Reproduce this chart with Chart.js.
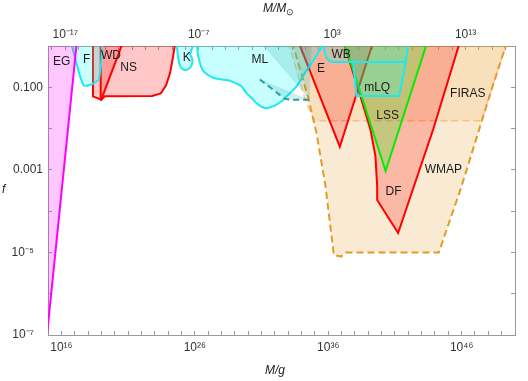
<!DOCTYPE html>
<html>
<head>
<meta charset="utf-8">
<title>PBH constraints</title>
<script src="https://cdn.jsdelivr.net/npm/chart.js@4.4.1/dist/chart.umd.min.js"></script>
<style>
  body { margin: 0; background: #fff; }
  #wrap { position: relative; width: 528px; height: 381px; font-family: 'Liberation Sans', Arial, sans-serif; }
  .ttl { position: absolute; font-style: italic; font-size: 12px; line-height: 14px; color: #222; white-space: nowrap; }
  .ttl sub { font-style: normal; font-size: 9px; }
</style>
</head>
<body>
<div id="wrap">
  <canvas id="pbhChart" width="528" height="381"></canvas>
  <div class="ttl" style="left:263px;top:1px">M/M<sub>⊙</sub></div>
  <div class="ttl" style="left:265px;top:363px">M/g</div>
  <div class="ttl" style="left:2px;top:182px">f</div>
</div>
<script>
(function () {
  'use strict';

  // boundaries as [log10(M/g), log10 f]
  var egEdge = [[14.9, -7.08], [17.16, 0.1], [14.9, 0.1]];
  var fEdge = [[16.72, 0.1], [17.10, -0.38], [17.43, -0.76], [17.70, -0.96], [18.07, -0.95], [18.37, -0.91], [18.82, -0.81], [18.95, 0.1]];
  var wdEdge = [[18.37, 0.1], [18.37, -1.22], [18.99, -1.30], [20.63, 0.1]];
  var nsEdge = [[18.95, 0.1], [18.95, -1.25], [19.0, -1.30], [19.25, -1.22], [22.8, -1.21], [23.45, -1.15], [23.85, -0.95], [24.15, -0.65], [24.35, -0.3], [24.55, 0.1]];
  var kEdge = [[24.64, 0.1], [24.74, -0.25], [24.9, -0.48], [25.15, -0.57], [25.5, -0.56], [25.78, -0.45], [25.8, -0.3], [25.65, -0.2], [25.9, 0.1]];
  var mlEdge = [[26.14, 0.1], [26.2, -0.1], [26.26, -0.25], [26.51, -0.53], [26.76, -0.65], [27.38, -0.77], [28.03, -0.81], [28.63, -0.84], [29.13, -0.91], [29.51, -0.98], [29.88, -1.14], [30.38, -1.30], [30.75, -1.42], [31.25, -1.50], [31.63, -1.49], [32.13, -1.42], [32.5, -1.34], [32.88, -1.22], [33.63, -0.98], [34.25, -0.65], [34.75, -0.42], [35.22, -0.18], [35.65, 0.1]];
  var mlDashEdge = [[30.88, 0.1], [30.88, -0.81], [32.75, -1.28], [33.13, -1.30], [34.63, -1.30], [34.75, 0.1]];
  var wbEdge = [[35.62, 0.1], [35.72, -0.12], [35.85, -0.27], [36.1, -0.36], [36.3, -0.39], [41.81, -0.39], [42.02, 0.1]];
  var mlqEdge = [[37.87, -0.39], [38.12, -1.21], [41.31, -1.21], [41.61, -0.75], [41.81, -0.39]];
  var eEdge = [[33.77, 0.1], [36.87, -2.44], [39.37, 0.1]];
  var lssEdge = [[37.2, 0.1], [40.30, -3.03], [43.43, 0.1]];
  var dfEdge = [[37.15, 0.1], [38.42, -1.22], [39.17, -2.03], [39.54, -2.67], [39.67, -3.40], [39.67, -3.73], [41.24, -4.53], [43.86, -2.03], [45.87, 0.1]];
  var firasEdge = [[33.0, 0.1], [34.25, -1.27], [34.65, -1.60], [35.0, -1.81], [47.49, -1.81], [49.40, 0.1]];
  var wmapEdge = [[33.3, 0.1], [34.48, -1.23], [35.13, -2.12], [35.8, -3.40], [36.42, -5.06], [36.97, -5.10], [37.30, -5.0], [44.29, -5.0], [45.91, -3.48], [48.15, -1.15], [49.40, 0.1]];

  var labelNames = ['EG', 'F', 'WD', 'NS', 'K', 'ML', 'E', 'WB', 'mLQ', 'LSS', 'FIRAS', 'WMAP', 'DF'];
  var labelLgM = [16.03, 17.9, 19.72, 21.04, 25.39, 30.88, 35.46, 36.97, 39.67, 40.45, 46.46, 44.63, 40.9];
  var labelLgF = [-0.39, -0.33, -0.23, -0.53, -0.29, -0.34, -0.55, -0.2, -1.01, -1.70, -1.15, -3.0, -3.52];

  var bottomLabelExps = [16, 26, 36, 46];
  var topLabelExps = [-17, -7, 3, 13];
  var yLabelExps = [-1, -3, -5, -7];
  var yLabelText = ['0.100', '0.001', '10\u207B\u2075\u2007\u2009', '10\u207B\u2077\u2007\u2009'];
  var solarMassGrams = 1.989e33;

  var SUP = { '0': '\u2070', '1': '\u00B9', '2': '\u00B2', '3': '\u00B3', '4': '\u2074', '5': '\u2075', '6': '\u2076', '7': '\u2077', '8': '\u2078', '9': '\u2079', '-': '\u207B' };
  function pow10Label(e) {
    return '10' + String(e).split('').map(function (c) { return SUP[c]; }).join('');
  }
  function expOf(v) { return Math.round(Math.log10(v)); }

  function toPoints(edge, close) {
    var pts = edge.map(function (d) { return { x: Math.pow(10, d[0]), y: Math.pow(10, d[1]) }; });
    if (close) pts.push(pts[0]);
    return pts;
  }

  function region(edge, line, fill, extra) {
    var ds = {
      data: toPoints(edge, true),
      borderColor: line,
      backgroundColor: fill,
      borderWidth: 2,
      fill: 'shape',
      pointRadius: 0,
      tension: 0,
      clip: 0
    };
    for (var k in extra) ds[k] = extra[k];
    return ds;
  }

  var RED = '#ff0000', REDFILL = 'rgba(255,0,0,0.22)';
  var CYAN = '#1ee8f2', CYANFILL = 'rgba(0,255,255,0.22)';

  // drawn bottom to top
  var layers = [
    region(wmapEdge, '#e19c24', 'rgba(225,156,36,0.2)', { borderDash: [7, 4] }),
    region(firasEdge, 'rgba(255,140,60,0.45)', 'rgba(240,160,70,0.15)', { borderDash: [7, 4], borderWidth: 1.5 }),
    region(dfEdge, RED, REDFILL),
    region(eEdge, RED, REDFILL),
    region(nsEdge, RED, REDFILL),
    region(wdEdge, RED, REDFILL),
    region(lssEdge, '#00ee00', 'rgba(0,255,0,0.22)'),
    region(mlqEdge, CYAN, CYANFILL),
    region(wbEdge, CYAN, CYANFILL),
    region(mlEdge, CYAN, CYANFILL, { tension: 0.3 }),
    region(mlDashEdge, '#1fa3a8', 'rgba(0,140,140,0.16)', {
      borderDash: [6, 4],
      segment: {
        borderColor: function (ctx) {
          return (ctx.p0DataIndex === 0 || ctx.p0DataIndex >= 4) ? 'rgba(0,0,0,0)' : undefined;
        }
      }
    }),
    region(kEdge, CYAN, CYANFILL, { tension: 0.35 }),
    region(fEdge, CYAN, CYANFILL, { tension: 0.2 }),
    region(egEdge, '#ff00ff', 'rgba(255,0,255,0.22)')
  ];

  var regionLabels = {
    id: 'regionLabels',
    afterDatasetsDraw: function (chart) {
      var ctx = chart.ctx, xs = chart.scales.x, ys = chart.scales.y;
      ctx.save();
      ctx.font = "12px 'Liberation Sans', Arial, sans-serif";
      ctx.fillStyle = '#1a1a1a';
      ctx.textAlign = 'center';
      ctx.textBaseline = 'middle';
      labelNames.forEach(function (name, i) {
        ctx.fillText(name, xs.getPixelForValue(Math.pow(10, labelLgM[i])), ys.getPixelForValue(Math.pow(10, labelLgF[i])));
      });
      ctx.restore();
    }
  };

  function decadeTicks(lo, hi) {
    return function (scale) {
      var t = [];
      for (var e = lo; e <= hi; e++) t.push({ value: Math.pow(10, e) });
      scale.ticks = t;
    };
  }

  var tickFont = { family: "'Liberation Sans', Arial, sans-serif", size: 12 };
  var AXIS = '#9a9a9a';
  function axisGrid() { return { drawOnChartArea: false, tickLength: -4, tickColor: AXIS }; }

  new Chart(document.getElementById('pbhChart'), {
    type: 'line',
    data: { datasets: layers.reverse() },
    options: {
      responsive: false,
      animation: false,
      events: [],
      elements: { line: { capBezierPoints: false } },
      layout: { padding: 0 },
      plugins: { legend: { display: false }, tooltip: { enabled: false } },
      scales: {
        x: {
          type: 'logarithmic', position: 'bottom', min: 1e15, max: 1e50,
          afterBuildTicks: decadeTicks(15, 50),
          afterFit: function (s) { s.height = 46; },
          grid: axisGrid(),
          border: { color: AXIS },
          ticks: {
            autoSkip: false, maxRotation: 0, minRotation: 0, padding: 9, font: tickFont, color: '#333',
            callback: function (v) { var e = expOf(v); return bottomLabelExps.indexOf(e) >= 0 ? pow10Label(e) : ''; }
          }
        },
        x2: {
          type: 'logarithmic', position: 'top', display: true,
          min: 1e15 / solarMassGrams, max: 1e50 / solarMassGrams,
          afterBuildTicks: decadeTicks(-18, 16),
          afterFit: function (s) { s.height = 46; },
          grid: axisGrid(),
          border: { color: AXIS },
          ticks: {
            autoSkip: false, maxRotation: 0, minRotation: 0, padding: 8, font: tickFont, color: '#333',
            callback: function (v) { var e = expOf(v); return topLabelExps.indexOf(e) >= 0 ? pow10Label(e) : ''; }
          }
        },
        y: {
          type: 'logarithmic', position: 'left', min: 1e-7, max: 1,
          afterBuildTicks: decadeTicks(-7, 0),
          afterFit: function (s) { s.width = 48; },
          grid: axisGrid(),
          border: { color: AXIS },
          ticks: {
            autoSkip: false, padding: 9, font: tickFont, color: '#333',
            callback: function (v) { var i = yLabelExps.indexOf(expOf(v)); return i >= 0 ? yLabelText[i] : ''; }
          }
        },
        y2: {
          type: 'logarithmic', position: 'right', display: true, min: 1e-7, max: 1,
          afterBuildTicks: decadeTicks(-7, 0),
          afterFit: function (s) { s.width = 13; },
          grid: axisGrid(),
          border: { color: AXIS },
          ticks: { display: false }
        }
      }
    },
    plugins: [regionLabels]
  });
})();
</script>
</body>
</html>
